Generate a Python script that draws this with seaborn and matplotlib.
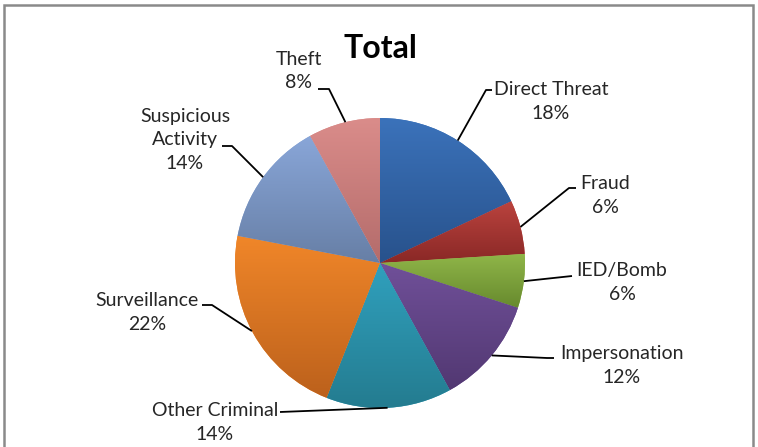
import numpy as np
import matplotlib
matplotlib.use("Agg")
import matplotlib.pyplot as plt
import seaborn as sns
from matplotlib.patches import Rectangle
from matplotlib.colors import to_rgb

# ---- data ----
categories = ["Direct Threat", "Fraud", "IED/Bomb", "Impersonation",
              "Other Criminal", "Surveillance", "Suspicious Activity", "Theft"]
label_texts = ["Direct Threat", "Fraud", "IED/Bomb", "Impersonation",
               "Other Criminal", "Surveillance", "Suspicious\nActivity", "Theft"]
shares = [18, 6, 6, 12, 14, 22, 14, 8]
title = "Total"

# ---- styling ----
top_colors = ["#3B72BA", "#BA433E", "#8FB548", "#705099",
              "#30A0BD", "#F08629", "#89A6D8", "#DA8C8A"]
bottom_colors = ["#28528C", "#8A2826", "#678A2E", "#523872",
                 "#247C90", "#BC611C", "#677FA6", "#B46C6B"]

sns.set_theme(style="white")
plt.rcParams['font.family'] = ['Lato', 'DejaVu Sans']

W, H = 758, 447
fig = plt.figure(figsize=(W / 100, H / 100), dpi=100)
ax = fig.add_axes([0, 0, 1, 1])
cx, cy, R = 380, H - 263, 145

wedges, _ = ax.pie(shares, colors=top_colors, startangle=90, counterclock=False,
                   center=(cx, cy), radius=R, wedgeprops=dict(linewidth=0))

# vertical gradient inside each wedge
for w, ct, cb in zip(wedges, top_colors, bottom_colors):
    angs = np.deg2rad(np.linspace(w.theta1, w.theta2, 100))
    ys = np.concatenate([[cy], cy + R * np.sin(angs)])
    ymin, ymax = ys.min(), ys.max()
    t = np.linspace(0, 1, 64)[:, None]
    c0, c1 = np.array(to_rgb(ct)), np.array(to_rgb(cb))
    grad = (c0[None, :] * (1 - t) + c1[None, :] * t)[:, None, :]
    im = ax.imshow(grad, extent=[cx - R, cx + R, ymin, ymax], origin='upper',
                   aspect='auto', zorder=2, interpolation='bilinear')
    im.set_clip_path(w)

# label layout (pixel coords, y measured from top): text block centre,
# anchor angle on the pie edge, and the leader path points toward the text
layout = {
    "Direct Threat":       dict(txt=(551, 101.5), ang=57.6,  path=[(486, 90), (492, 90)]),
    "Fraud":               dict(txt=(605, 195.5), ang=14.4,  path=[(569, 188), (576, 188)]),
    "IED/Bomb":            dict(txt=(622, 282.5), ang=-7.2,  path=[(572, 276)]),
    "Impersonation":       dict(txt=(622, 365.5), ang=-39.6, path=[(547, 358), (554, 358)]),
    "Other Criminal":      dict(txt=(215, 422.5), ang=-87.0, path=[(280, 412)]),
    "Surveillance":        dict(txt=(147, 312.5), ang=-152.0, path=[(212, 305), (202, 305)]),
    "Suspicious Activity": dict(txt=(185, 140.0), ang=143.7, path=[(232, 146), (222, 146)]),
    "Theft":               dict(txt=(299, 71.0),  ang=103.8, path=[(329, 89), (318, 89)]),
}

total = sum(shares)
for cat, lab, v in zip(categories, label_texts, shares):
    L = layout[cat]
    a = np.deg2rad(L["ang"])
    pts = [(cx + R * np.cos(a), cy + R * np.sin(a))] + [(x, H - y) for x, y in L["path"]]
    xs, ys = zip(*pts)
    ax.plot(xs, ys, color="black", lw=1.3, zorder=3, solid_capstyle='butt')
    pct = f"{round(v / total * 100)}%"
    ax.text(L["txt"][0], H - L["txt"][1], f"{lab}\n{pct}", ha='center', va='center',
            multialignment='center', fontsize=14, color="#262626", linespacing=1.48,
            zorder=4)

ax.text(380, H - 48, title, ha='center', va='center', fontsize=23,
        fontweight='bold', color='black')

ax.add_patch(Rectangle((4, -20), 749, H - 5 + 20, fill=False, edgecolor='#8a8a8a',
                       lw=1.8, clip_on=False, zorder=5))

ax.set_xlim(0, W)
ax.set_ylim(0, H)
ax.set_aspect('auto')
ax.axis('off')

fig.savefig("out.png", dpi=100)
